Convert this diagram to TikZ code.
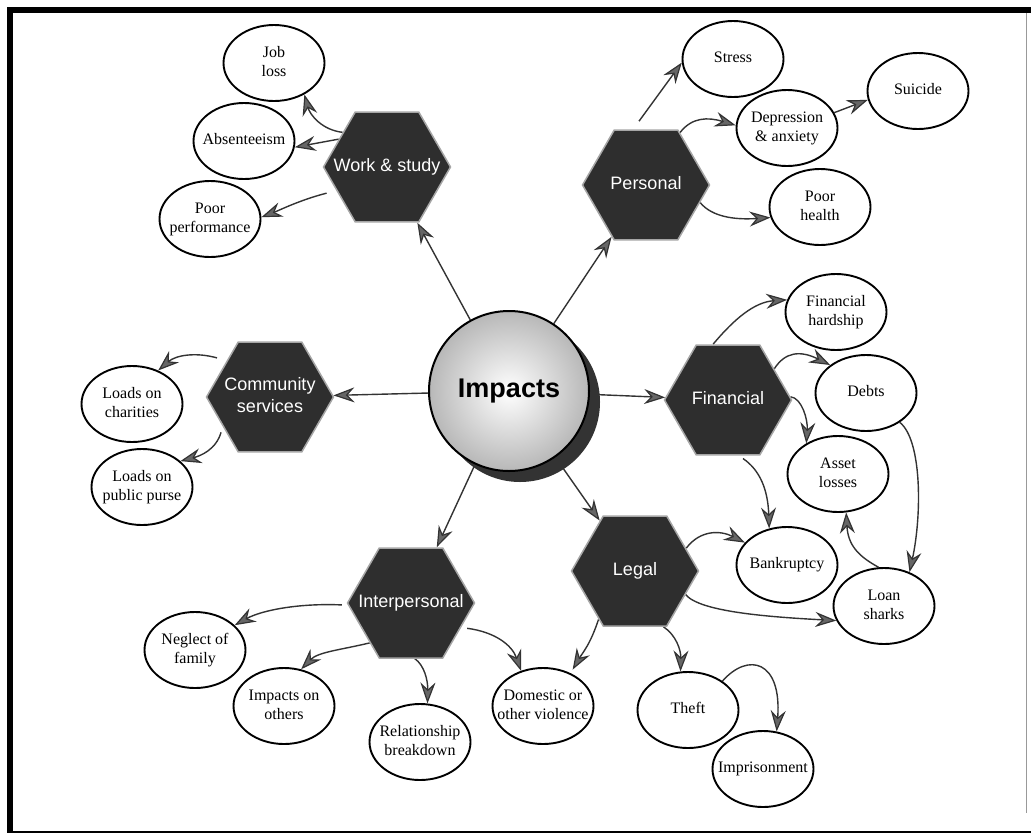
\documentclass[tikz,border=0pt]{standalone}
\usepackage{fontspec}
\setmainfont{Liberation Serif}
\newfontfamily\hexfont{Liberation Sans}
\usetikzlibrary{shapes.geometric,arrows.meta,backgrounds}

% centred label that does not widen its node
\newcommand{\cellbox}[1]{\makebox[0pt]{\begin{tabular}{@{}c@{}}#1\end{tabular}}}

\tikzset{
  outcome/.style={ellipse, draw=black, line width=1.9pt, fill=white,
    minimum width=101pt, minimum height=76pt, inner sep=0pt,
    font=\fontsize{16}{19}\selectfont},
  area/.style={regular polygon, regular polygon sides=6, minimum size=127pt,
    inner sep=0pt, fill=black!82, draw=black!35, line width=1.5pt, text=white,
    font=\hexfont\fontsize{18}{22}\selectfont},
  link/.style={draw=black!80, line width=1.4pt,
    -{Stealth[length=21pt,width=15pt,inset=7pt,fill=black!60,line width=1.2pt]}},
}

\begin{document}
\begin{tikzpicture}[x=1pt,y=-1pt]
\useasboundingbox (0,0) rectangle (1031,833);

% frame
\fill[black] (7,7) rectangle (1031,13);
\fill[black] (7,7) rectangle (13,833);
\draw[black, line width=1.2pt] (7,832) -- (1031,832);
\draw[black!40, line width=1pt] (1026,13) -- (1026,813);

% central disc with its shadow
\node[circle, minimum size=160pt, fill=black!80] (impshadow) at (520,402) {};
\node[circle, minimum size=160pt, draw=black, line width=2pt,
      inner color=white, outer color=black!28,
      font=\hexfont\bfseries\fontsize{27}{30}\selectfont] (imp) at (509,391) {Impacts};

% impact areas
\node[area] (ws)    at (387,167) {\cellbox{Work \& study}};
\node[area] (pers)  at (646,185) {\cellbox{Personal}};
\node[area] (fin)   at (728,400) {\cellbox{Financial}};
\node[area] (legal) at (635,571) {\cellbox{Legal}};
\node[area] (inter) at (411,603) {\cellbox{Interpersonal}};
\node[area] (comm)  at (270,397) {\cellbox{Community\\services}};

% outcomes
\node[outcome] (jobloss)   at (274,63)  {\cellbox{Job\\loss}};
\node[outcome] (absent)    at (244,141) {\cellbox{Absenteeism}};
\node[outcome] (poorperf)  at (210,219) {\cellbox{Poor\\performance}};
\node[outcome] (charities) at (132,404) {\cellbox{Loads on\\charities}};
\node[outcome] (purse)     at (142,487) {\cellbox{Loads on\\public purse}};
\node[outcome] (neglect)   at (195,650) {\cellbox{Neglect of\\family}};
\node[outcome] (others)    at (284,706) {\cellbox{Impacts on\\others}};
\node[outcome] (relation)  at (420,742) {\cellbox{Relationship\\breakdown}};
\node[outcome] (domestic)  at (543,706) {\cellbox{Domestic or\\other violence}};
\node[outcome] (theft)     at (688,710) {\cellbox{Theft}};
\node[outcome] (prison)    at (763,769) {\cellbox{Imprisonment}};
\node[outcome] (bankrupt)  at (787,565) {\cellbox{Bankruptcy}};
\node[outcome] (loan)      at (884,606) {\cellbox{Loan\\sharks}};
\node[outcome] (asset)     at (838,474) {\cellbox{Asset\\losses}};
\node[outcome] (debts)     at (866,393) {\cellbox{Debts}};
\node[outcome] (hardship)  at (836,312) {\cellbox{Financial\\hardship}};
\node[outcome] (stress)    at (733,59)  {\cellbox{Stress}};
\node[outcome] (suicide)   at (918,91)  {\cellbox{Suicide}};
\node[outcome] (depress)   at (787,128) {\cellbox{Depression\\\& anxiety}};
\node[outcome] (health)    at (820,207) {\cellbox{Poor\\health}};

\begin{scope}[on background layer]
% from the centre
\draw[link] (imp) -- (ws);
\draw[link] (imp) -- (pers);
\draw[link] (imp) -- (comm);
\draw[link] (imp) -- (fin);
\draw[link] (imp) -- (inter);
\draw[link] (imp) -- (legal);
% work & study
\draw[link] (ws.142) .. controls (322,130) and (310,115) .. (jobloss.314);
\draw[link] (ws.150) -- (absent.353);
\draw[link, shorten <=10pt] (ws.205) .. controls (300,200) and (280,210) .. (poorperf.2);
% personal
\draw[link, shorten <=10pt] (pers.103) -- (stress.184);
\draw[link] (pers.57) .. controls (692,117) and (708,117) .. (depress.177);
\draw[link] (pers.342) .. controls (712,217) and (735,220) .. (health.192);
\draw[link] (depress.18) -- (suicide.190);
% financial
\draw[link] (fin.105) .. controls (735,318) and (755,302) .. (hardship.166);
\draw[link] (fin.34) .. controls (785,352) and (800,350) .. (debts.142);
\draw[link] (fin.3) .. controls (802,398) and (808,420) .. (asset.136);
\draw[link, shorten <=5pt] (fin.281) .. controls (760,470) and (768,490) .. (bankrupt.116);
\draw[link] (debts.319) .. controls (922,440) and (922,515) .. (loan.53);
\draw[link] (loan.98) .. controls (858,556) and (848,545) .. (asset.282);
% legal
\draw[link] (legal.24) .. controls (700,530) and (720,530) .. (bankrupt.152);
\draw[link] (legal.335) .. controls (700,612) and (770,617) .. (loan.197);
\draw[link] (legal.297) .. controls (676,635) and (681,650) .. (theft.101);
\draw[link, shorten >=4pt] (legal.233) .. controls (590,645) and (583,652) .. (domestic.50);
\draw[link] (theft.40) .. controls (748,652) and (782,660) .. (prison.70);
% interpersonal
\draw[link, shorten <=6pt] (inter.182) .. controls (300,603) and (262,610) .. (neglect.32);
\draw[link] (inter.224) .. controls (340,650) and (318,652) .. (others.65);
\draw[link] (inter.274) .. controls (424,665) and (428,680) .. (relation.79);
\draw[link, shorten <=6pt] (inter.334) .. controls (495,632) and (512,645) .. (domestic.122);
% community services
\draw[link, shorten <=10pt] (comm.140) .. controls (196,352) and (176,355) .. (charities.52);
\draw[link, shorten <=6pt] (comm.212) .. controls (216,450) and (200,456) .. (purse.34);
\end{scope}
\end{tikzpicture}
\end{document}
